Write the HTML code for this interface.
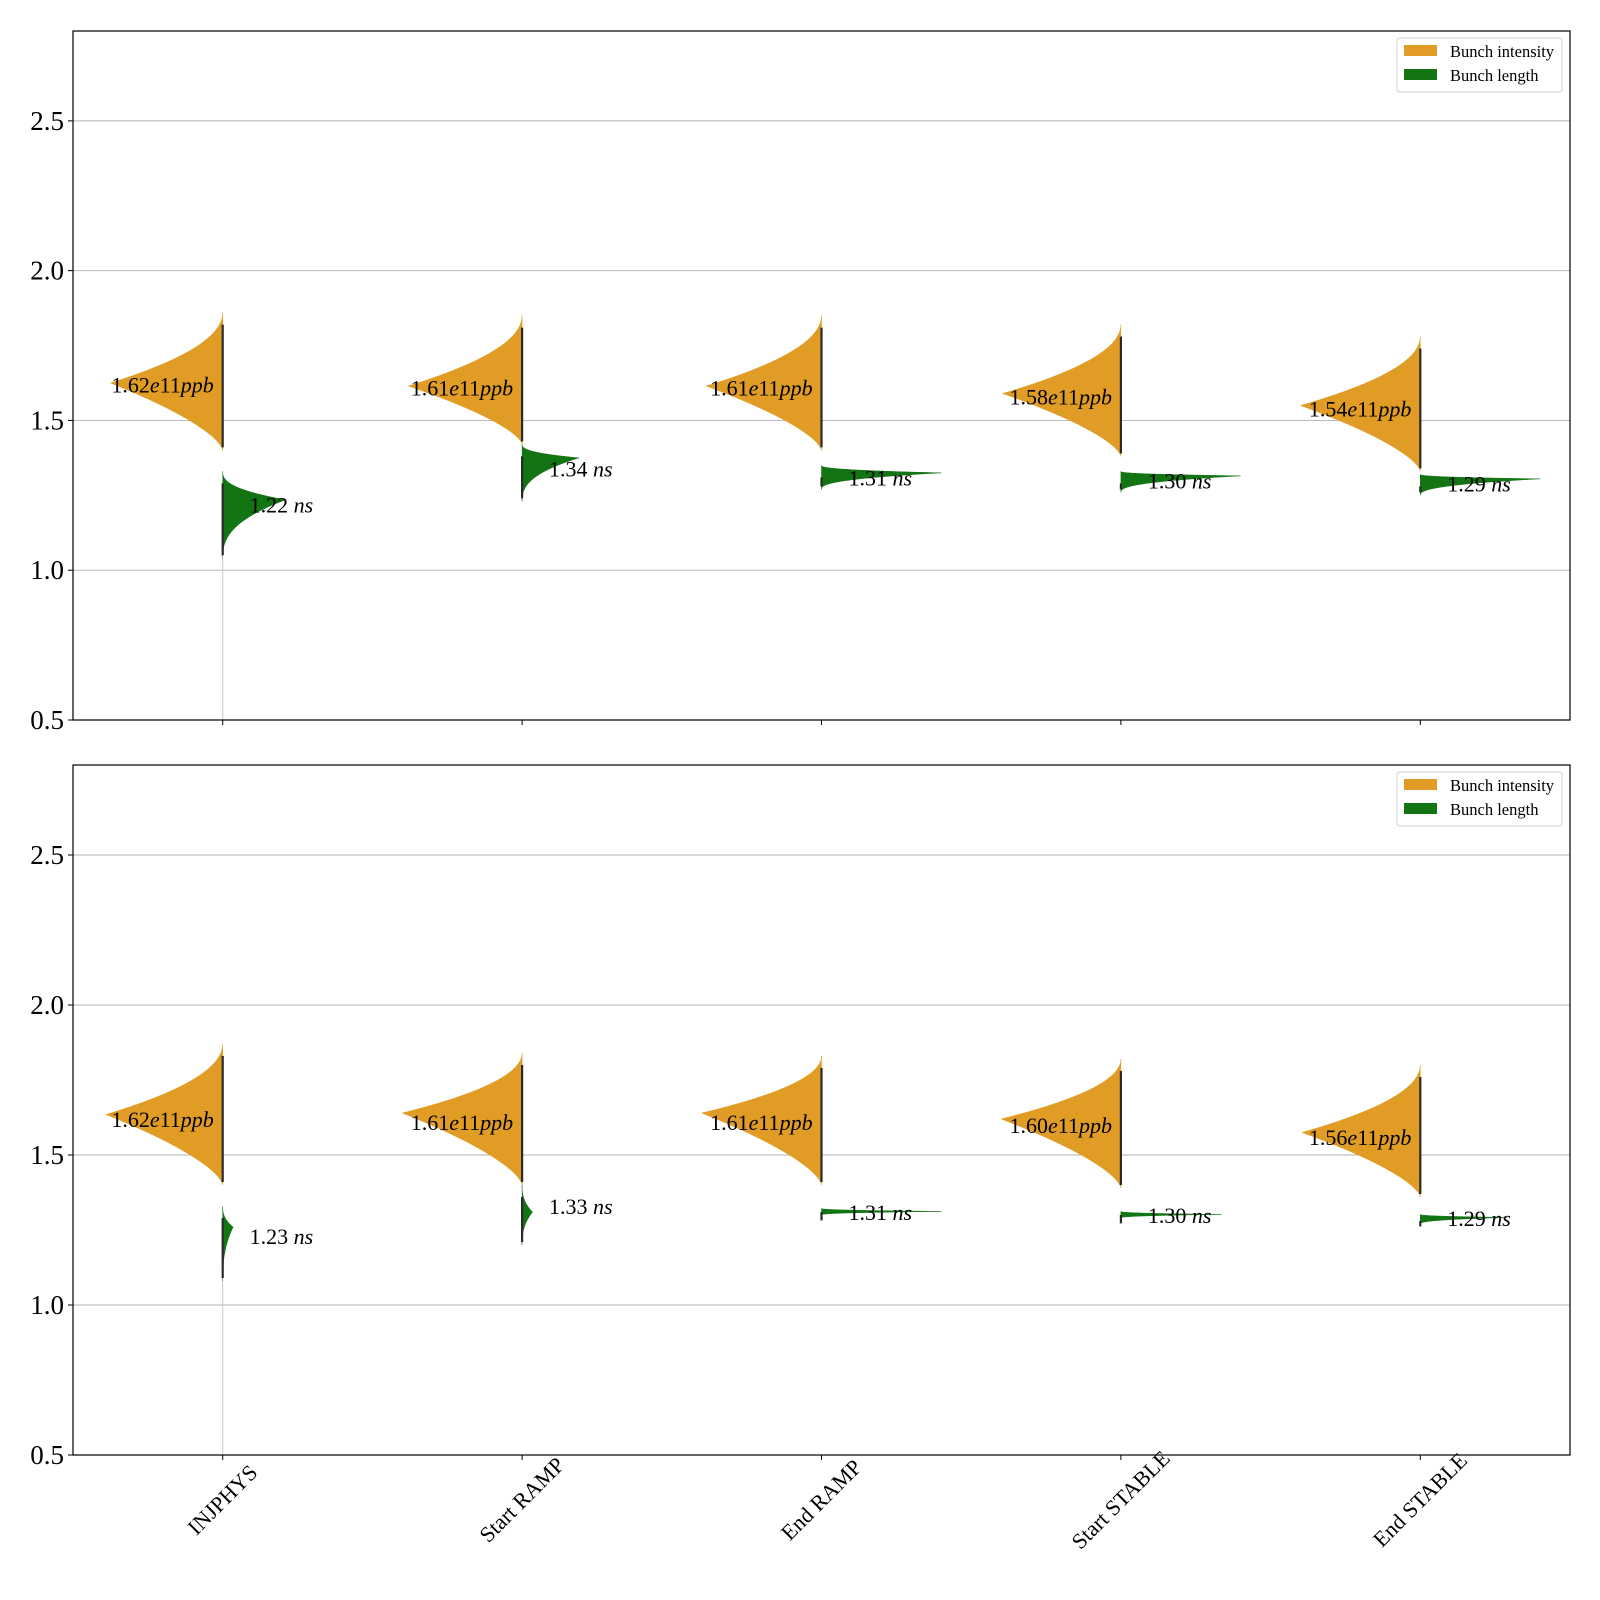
<!DOCTYPE html>
<html><head><meta charset="utf-8"><style>
html,body{margin:0;padding:0;background:#fff}
svg{display:block;font-family:"Liberation Serif",serif}
</style></head><body>
<svg id="chart" width="1600" height="1600" viewBox="0 0 1600 1600" xmlns="http://www.w3.org/2000/svg"></svg>
<script>
const categories = ["INJPHYS","Start RAMP","End RAMP","Start STABLE","End STABLE"];
const yTicks = [0.5,1.0,1.5,2.0,2.5];
const yTickLabels = ["0.5","1.0","1.5","2.0","2.5"];
// top panel - bunch intensity (orange)
const topIntMode = [1.625,1.615,1.615,1.59,1.55];
const topIntMax = [1.86,1.85,1.85,1.82,1.78];
const topIntMin = [1.40,1.42,1.40,1.38,1.33];
const topIntWidth = [0.375,0.38,0.385,0.395,0.40];
const topIntLabel = [1.62,1.61,1.61,1.58,1.54];
// top panel - bunch length (green)
const topLenMode = [1.235,1.375,1.325,1.315,1.305];
const topLenMax = [1.33,1.42,1.35,1.33,1.32];
const topLenMin = [1.04,1.23,1.27,1.26,1.25];
const topLenWidth = [0.21,0.19,0.40,0.40,0.40];
const topLenLabel = [1.22,1.34,1.31,1.30,1.29];
// bottom panel - bunch intensity
const botIntMode = [1.635,1.64,1.64,1.62,1.575];
const botIntMax = [1.87,1.84,1.83,1.82,1.80];
const botIntMin = [1.40,1.40,1.40,1.39,1.36];
const botIntWidth = [0.39,0.40,0.40,0.40,0.395];
const botIntLabel = [1.62,1.61,1.61,1.60,1.56];
// bottom panel - bunch length
const botLenMode = [1.26,1.31,1.312,1.302,1.292];
const botLenMax = [1.33,1.40,1.322,1.312,1.302];
const botLenMin = [1.08,1.20,1.30,1.29,1.27];
const botLenWidth = [0.035,0.035,0.40,0.335,0.29];
const botLenLabel = [1.23,1.33,1.31,1.30,1.29];

const NS="http://www.w3.org/2000/svg";
const svg=document.getElementById('chart');
const X0=73, X1=1570, STEP=(X1-X0)/5;
const ORANGE="#e09c24", GREEN="#137413";
function xPos(i){return X0+STEP*(i+0.5);}
function mk(tag,attrs,parent){const e=document.createElementNS(NS,tag);for(const k in attrs)e.setAttribute(k,attrs[k]);(parent||svg).appendChild(e);return e;}

function panel(top,bottom,p,data,showX){
  const yMin=0.5,yMax=2.8;
  const yPos=v=>bottom-(v-yMin)/(yMax-yMin)*(bottom-top);
  const g=mk('g',{});
  
  
  yTicks.forEach((t,k)=>{
    const y=yPos(t);
    const gl=mk('line',{x1:X0,x2:X1,y1:y,y2:y,stroke:'#b0b0b0','stroke-width':0.9},g);
    
    
    mk('line',{x1:X0-5,x2:X0,y1:y,y2:y,stroke:'#000','stroke-width':1},g);
    const tl=mk('text',{x:X0-9,y:y+9,'text-anchor':'end','font-size':27},g);
    tl.textContent=yTickLabels[k];
    
    
  });
  const tail=mk('line',{x1:xPos(0),x2:xPos(0),y1:yPos(data.lenMin[0]),y2:bottom,stroke:'#c8c8c8','stroke-width':1},g);
  
  
  function violin(i,mode,mx,mn,w,side,color,pu,pl,name){
    const cx=xPos(i), W=w*STEP, N=50, pts=[];
    for(let k=0;k<=N;k++){const v=mx-(mx-mode)*k/N;const t=(v-mode)/(mx-mode||1);pts.push([v,Math.pow(1-t,pu)]);}
    for(let k=1;k<=N;k++){const v=mode-(mode-mn)*k/N;const t=(mode-v)/(mode-mn||1);pts.push([v,Math.pow(1-t,pl)]);}
    let d='M'+cx+','+yPos(mx);
    pts.forEach(q=>{d+=' L'+(cx+side*W*q[1]).toFixed(2)+','+yPos(q[0]).toFixed(2);});
    d+=' L'+cx+','+yPos(mn)+' Z';
    const path=mk('path',{d:d,fill:color,stroke:color,'stroke-width':0.5},g);
    
    
    const st=mk('line',{x1:cx,x2:cx,y1:yPos(mx)+12,y2:yPos(mn)-3,stroke:'#2a2a2a','stroke-width':2.2},g);
    
    
  }
  categories.forEach((c,i)=>{
    violin(i,data.intMode[i],data.intMax[i],data.intMin[i],data.intWidth[i],-1,ORANGE,2,1.5,'intensity-violin');
    violin(i,data.lenMode[i],data.lenMax[i],data.lenMin[i],data.lenWidth[i],1,GREEN,2.5,2.5,'length-violin');
  });
  categories.forEach((c,i)=>{
    const cx=xPos(i);
    const t1=mk('text',{x:cx-0.372*STEP,y:yPos(data.intLabel[i])+8,'font-size':22},g);
    t1.innerHTML=data.intLabel[i].toFixed(2)+'<tspan font-style="italic">e</tspan>11<tspan font-style="italic">ppb</tspan>';
    
    
    const t2=mk('text',{x:cx+0.09*STEP,y:yPos(data.lenLabel[i])+8,'font-size':22},g);
    t2.innerHTML=data.lenLabel[i].toFixed(2)+' <tspan font-style="italic">ns</tspan>';
    
    
    mk('line',{x1:cx,x2:cx,y1:bottom,y2:bottom+5,stroke:'#000','stroke-width':1},g);
    if(showX){
      const xl=mk('text',{x:cx,y:bottom+52,'text-anchor':'middle','font-size':22,transform:'rotate(-45 '+cx+' '+(bottom+45)+')'},g);
      xl.textContent=c;
      
      
    }
  });
  const fr=mk('rect',{x:X0,y:top,width:X1-X0,height:bottom-top,fill:'none',stroke:'#000','stroke-width':1.2},g);
  
  
  const lg=mk('g',{},g);
  
  
  mk('rect',{x:1397,y:top+7,width:165,height:54,rx:3,fill:'#fff',stroke:'#d0d0d0','stroke-width':1},lg);
  const e1=mk('rect',{x:1404,y:top+14,width:33,height:11,fill:ORANGE},lg);
  
  
  const l1=mk('text',{x:1450,y:top+26,'font-size':16.5},lg);l1.textContent='Bunch intensity';
  
  
  const e2=mk('rect',{x:1404,y:top+38,width:33,height:11,fill:GREEN},lg);
  
  
  const l2=mk('text',{x:1450,y:top+50,'font-size':16.5},lg);l2.textContent='Bunch length';
  
  
}
panel(31,720,'top',{intMode:topIntMode,intMax:topIntMax,intMin:topIntMin,intWidth:topIntWidth,intLabel:topIntLabel,lenMode:topLenMode,lenMax:topLenMax,lenMin:topLenMin,lenWidth:topLenWidth,lenLabel:topLenLabel},false);
panel(765,1455,'bottom',{intMode:botIntMode,intMax:botIntMax,intMin:botIntMin,intWidth:botIntWidth,intLabel:botIntLabel,lenMode:botLenMode,lenMax:botLenMax,lenMin:botLenMin,lenWidth:botLenWidth,lenLabel:botLenLabel},true);
</script>
</body></html>
